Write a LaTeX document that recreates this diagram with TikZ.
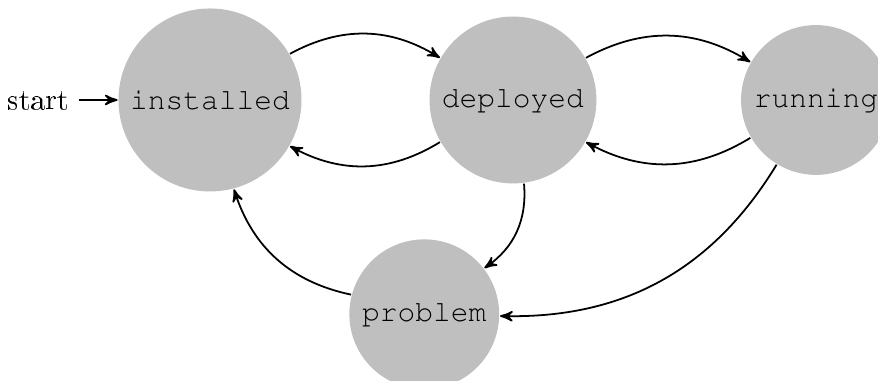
\documentclass[tikz,border=0pt]{standalone}
\usepackage[T1]{fontenc}
\usepackage{courier}
\usepackage{tikz}
\usetikzlibrary{automata,arrows,positioning}

\begin{document}
\begin{tikzpicture}[>=stealth',semithick,every state/.style={circle,draw=none,fill=lightgray,inner sep=3.33pt,minimum size=0pt}]
\useasboundingbox (-2.495,-3.339) rectangle (7.937,1.188);
\node[state,initial,initial text=start] (inst) at (0,0) {\texttt{installed}};
\node[state] (depl) at (3.6,0) {\texttt{deployed}};
\node[state] (run) at (7.2,0) {\texttt{running}};
\node[state] (prob) at (2.546,-2.546) {\texttt{problem}};
\draw[->] (inst) edge[bend left] (depl);
\draw[->] (depl) edge[bend left] (inst);
\draw[->] (depl) edge[bend left] (run);
\draw[->] (run) edge[bend left] (depl);
\draw[->] (depl) edge[bend left] (prob);
\draw[->] (prob) edge[bend left] (inst);
\draw[->] (run) edge[bend left] (prob);
\end{tikzpicture}
\end{document}
